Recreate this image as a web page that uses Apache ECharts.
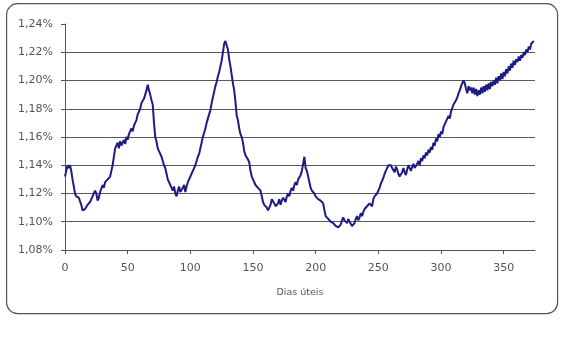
<!DOCTYPE html>
<html>
<head>
<meta charset="utf-8">
<script src="https://cdn.jsdelivr.net/npm/echarts@6/dist/echarts.min.js"></script>
<style>
  html, body { margin: 0; padding: 0; background: #fff; }
  #chart { width: 562px; height: 338px; }
</style>
</head>
<body>
<div id="chart"></div>
<script>
// valores diários (%), dia 0 .. 374
const values = [
  1.132, 1.136, 1.140, 1.138, 1.140, 1.136, 1.130, 1.125, 1.120, 1.118,
  1.118, 1.117, 1.116, 1.112, 1.108, 1.107, 1.109, 1.110, 1.112, 1.113,
  1.114, 1.116, 1.118, 1.120, 1.122, 1.120, 1.115, 1.117, 1.121, 1.122,
  1.126, 1.124, 1.128, 1.127, 1.130, 1.129, 1.132, 1.136, 1.140, 1.146,
  1.152, 1.153, 1.156, 1.152, 1.157, 1.154, 1.153, 1.158, 1.155, 1.160,
  1.158, 1.162, 1.163, 1.166, 1.164, 1.168, 1.170, 1.172, 1.176, 1.178,
  1.180, 1.184, 1.183, 1.187, 1.188, 1.193, 1.197, 1.193, 1.190, 1.186,
  1.183, 1.170, 1.160, 1.157, 1.152, 1.150, 1.148, 1.146, 1.143, 1.140,
  1.138, 1.134, 1.130, 1.128, 1.126, 1.124, 1.122, 1.125, 1.120, 1.118,
  1.122, 1.125, 1.121, 1.120, 1.124, 1.126, 1.121, 1.125, 1.128, 1.130,
  1.132, 1.134, 1.136, 1.138, 1.140, 1.141, 1.146, 1.148, 1.152, 1.156,
  1.160, 1.163, 1.166, 1.170, 1.173, 1.176, 1.179, 1.184, 1.188, 1.192,
  1.196, 1.199, 1.203, 1.206, 1.210, 1.214, 1.220, 1.226, 1.228, 1.227,
  1.222, 1.215, 1.210, 1.204, 1.198, 1.193, 1.185, 1.175, 1.172, 1.166,
  1.162, 1.160, 1.156, 1.150, 1.147, 1.146, 1.144, 1.142, 1.136, 1.132,
  1.130, 1.128, 1.126, 1.125, 1.124, 1.124, 1.122, 1.118, 1.114, 1.112,
  1.111, 1.110, 1.108, 1.108, 1.112, 1.116, 1.115, 1.113, 1.111, 1.110,
  1.113, 1.116, 1.112, 1.115, 1.117, 1.116, 1.114, 1.118, 1.120, 1.118,
  1.122, 1.124, 1.122, 1.126, 1.128, 1.126, 1.130, 1.129, 1.133, 1.136,
  1.135, 1.146, 1.138, 1.136, 1.132, 1.128, 1.124, 1.122, 1.121, 1.120,
  1.118, 1.118, 1.116, 1.115, 1.115, 1.114, 1.113, 1.108, 1.104, 1.103,
  1.102, 1.101, 1.100, 1.100, 1.099, 1.098, 1.097, 1.097, 1.096, 1.095,
  1.098, 1.101, 1.103, 1.101, 1.100, 1.099, 1.102, 1.100, 1.099, 1.097,
  1.096, 1.099, 1.102, 1.104, 1.101, 1.103, 1.106, 1.104, 1.107, 1.109,
  1.108, 1.111, 1.110, 1.113, 1.114, 1.111, 1.116, 1.118, 1.117, 1.120,
  1.121, 1.124, 1.127, 1.129, 1.131, 1.134, 1.136, 1.138, 1.140, 1.141,
  1.140, 1.138, 1.137, 1.135, 1.139, 1.137, 1.134, 1.132, 1.131, 1.135,
  1.138, 1.135, 1.133, 1.137, 1.140, 1.138, 1.136, 1.139, 1.141, 1.138,
  1.137, 1.141, 1.143, 1.140, 1.145, 1.143, 1.147, 1.145, 1.149, 1.147,
  1.151, 1.149, 1.153, 1.151, 1.156, 1.154, 1.159, 1.157, 1.162, 1.160,
  1.164, 1.162, 1.167, 1.166, 1.171, 1.170, 1.175, 1.173, 1.178, 1.179,
  1.183, 1.182, 1.186, 1.188, 1.191, 1.193, 1.196, 1.197, 1.200, 1.198,
  1.194, 1.191, 1.196, 1.193, 1.195, 1.191, 1.195, 1.190, 1.194, 1.189,
  1.193, 1.190, 1.195, 1.191, 1.196, 1.192, 1.197, 1.193, 1.198, 1.194,
  1.199, 1.196, 1.200, 1.197, 1.202, 1.198, 1.203, 1.200, 1.205, 1.201,
  1.206, 1.203, 1.208, 1.205, 1.210, 1.207, 1.212, 1.209, 1.214, 1.211,
  1.215, 1.213, 1.217, 1.214, 1.218, 1.216, 1.220, 1.218, 1.222, 1.220,
  1.224, 1.222, 1.226, 1.225, 1.228
];

const xTicks = [0, 50, 100, 150, 200, 250, 300, 350];
const yTicks = [1.08, 1.10, 1.12, 1.14, 1.16, 1.18, 1.20, 1.22, 1.24];
const xTitle = 'Dias úteis';

const font = 'DejaVu Sans';
const chart = echarts.init(document.getElementById('chart'));

// 1,24% não tem linha de grade
const gridColors = yTicks.map((t, i) => (i === yTicks.length - 1 ? 'transparent' : '#5a5a5a'));

chart.setOption({
  animation: false,
  backgroundColor: '#fff',
  graphic: {
    elements: [{
      type: 'rect',
      left: 6,
      top: 3,
      shape: { width: 551, height: 310, r: 11 },
      style: { fill: 'transparent', stroke: '#555', lineWidth: 1.2 },
      silent: true,
      z: 10
    }]
  },
  grid: { left: 65, right: 27, top: 24, bottom: 88 },
  xAxis: {
    type: 'value',
    min: 0,
    max: 375,
    interval: 50,
    name: xTitle,
    nameLocation: 'middle',
    nameGap: 38,
    nameTextStyle: { fontFamily: font, fontSize: 9.5, color: '#555' },
    axisLine: { show: true, lineStyle: { color: '#555', width: 1 } },
    axisTick: { show: true, length: 4, lineStyle: { color: '#555' } },
    axisLabel: {
      margin: 13,
      fontFamily: font,
      fontSize: 11,
      color: '#555',
      showMaxLabel: false,
      formatter: v => (xTicks.includes(v) ? String(v) : '')
    },
    splitLine: { show: false }
  },
  yAxis: {
    type: 'value',
    min: yTicks[0],
    max: yTicks[yTicks.length - 1],
    interval: 0.02,
    axisLine: { show: true, lineStyle: { color: '#555', width: 1 } },
    axisTick: { show: true, length: 4, lineStyle: { color: '#555' } },
    axisLabel: {
      margin: 12,
      fontFamily: font,
      fontSize: 11,
      color: '#555',
      formatter: v => v.toFixed(2).replace('.', ',') + '%'
    },
    splitLine: { show: true, lineStyle: { color: gridColors, width: 1 } }
  },
  series: [{
    type: 'line',
    data: values.map((v, i) => [i, v]),
    showSymbol: false,
    lineStyle: { color: '#1c1c84', width: 2 },
    z: 3
  }]
});
</script>
</body>
</html>
